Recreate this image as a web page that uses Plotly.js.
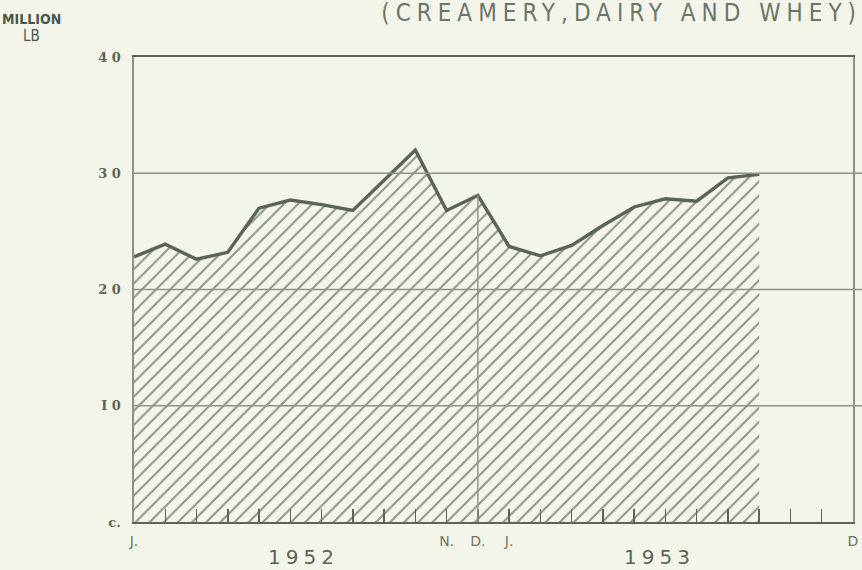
<!DOCTYPE html>
<html>
<head>
<meta charset="utf-8">
<script src="https://cdn.plot.ly/plotly-3.0.1.min.js"></script>
<style>
html,body{margin:0;padding:0;background:#f4f5ea;}
.gtitle{letter-spacing:6px;}
.annotation[data-index="2"] text,.annotation[data-index="3"] text{letter-spacing:5px;}
</style>
</head>
<body>
<div id="chart" style="width:862px;height:570px;"></div>
<script>
// Month index 0 = Jan 1952 ... 23 = Dec 1953
const monthIndex = [0,1,2,3,4,5,6,7,8,9,10,11,12,13,14,15,16,17,18,19,20];
const production = [22.8,23.9,22.6,23.2,27.0,27.7,27.3,26.8,29.4,32.0,26.8,28.1,23.7,22.9,23.8,25.5,27.1,27.8,27.6,29.6,29.9];
const allMonths = [0,1,2,3,4,5,6,7,8,9,10,11,12,13,14,15,16,17,18,19,20,21,22,23];
const monthTickText = ["J.","","","","","","","","","","N.","D.","J.","","","","","","","","","","","D"];
const yTickVals = [0,10,20,30,40];
const yTickText = ["c.","I 0","2 0","3 0","4 0"];
const gridVals = [10,20,30];
const yearLabels = ["1952","1953"];
const yearPos = [5.42,16.81];
const unitLines = ["MILLION","LB"];
const titleText = "(CREAMERY,DAIRY AND WHEY)";
const markerMonth = 11;

const ink = '#5a6558';
const light = '#8a9586';
const bg = '#f4f5ea';

const trace = {
  x: monthIndex, y: production, type: 'scatter', mode: 'lines',
  line: {color: ink, width: 3.4},
  fill: 'tozeroy',
  fillcolor: bg,
  fillpattern: {shape: '/', size: 10, solidity: 0.2, fgcolor: light, bgcolor: bg},
  hoverinfo: 'skip'
};

const shapes = gridVals.map(v => ({
  type: 'line', xref: 'paper', yref: 'y', x0: 0, x1: 1.0125, y0: v, y1: v,
  line: {color: light, width: 1.6}, layer: 'above'
}));
shapes.push({
  type: 'line', xref: 'x', yref: 'y', x0: markerMonth, x1: markerMonth,
  y0: 0, y1: production[markerMonth], line: {color: light, width: 1.4}, layer: 'above'
});

const layout = {
  width: 862, height: 570,
  margin: {l: 134, r: 9, t: 57, b: 48},
  paper_bgcolor: bg, plot_bgcolor: bg,
  showlegend: false,
  title: {text: titleText, x: 1.0, xanchor: 'right', y: 0.993, yanchor: 'top',
          font: {family: 'DejaVu Sans Condensed, Liberation Sans Narrow, sans-serif', size: 24, color: '#6b7568'}},
  xaxis: {
    range: [0, 23], tickvals: allMonths, ticktext: monthTickText,
    ticks: 'inside', ticklen: 13, tickwidth: 1.5, tickcolor: ink,
    showgrid: false, zeroline: false,
    showline: true, linecolor: ink, linewidth: 2.2, mirror: true,
    tickfont: {family: 'DejaVu Sans, sans-serif', size: 14, color: '#6b7568'},
    ticklabelstandoff: 5,
    fixedrange: true
  },
  yaxis: {
    range: [0, 40], tickvals: yTickVals, ticktext: yTickText,
    ticks: '', showgrid: false,
    zeroline: false, showline: true, linecolor: light, linewidth: 1.6, mirror: true,
    tickfont: {family: 'DejaVu Serif, serif', size: 13, color: '#5a6558', weight: 'bold'},
    ticklabelstandoff: 9,
    fixedrange: true
  },
  shapes: shapes,
  annotations: [
    {text: unitLines[0], xref: 'paper', yref: 'paper', x: -0.143, y: (522 - 19) / 465, xanchor: 'center', yanchor: 'middle',
     showarrow: false,
     font: {family: 'DejaVu Sans Condensed, sans-serif', size: 14, color: '#4a5649', weight: 'bold'}},
    {text: unitLines[1], xref: 'paper', yref: 'paper', x: -0.143, y: (522 - 36) / 465, xanchor: 'center', yanchor: 'middle',
     showarrow: false,
     font: {family: 'DejaVu Sans Condensed, sans-serif', size: 15, color: '#4a5649'}},
    {text: yearLabels[0], xref: 'x', yref: 'paper', x: yearPos[0], y: -0.0753, yanchor: 'middle', showarrow: false,
     font: {family: 'DejaVu Sans, sans-serif', size: 20, color: '#5a6558'}},
    {text: yearLabels[1], xref: 'x', yref: 'paper', x: yearPos[1], y: -0.0753, yanchor: 'middle', showarrow: false,
     font: {family: 'DejaVu Sans, sans-serif', size: 20, color: '#5a6558'}}
  ]
};

Plotly.newPlot('chart', [trace], layout, {displayModeBar: false, staticPlot: true});
</script>
</body>
</html>
